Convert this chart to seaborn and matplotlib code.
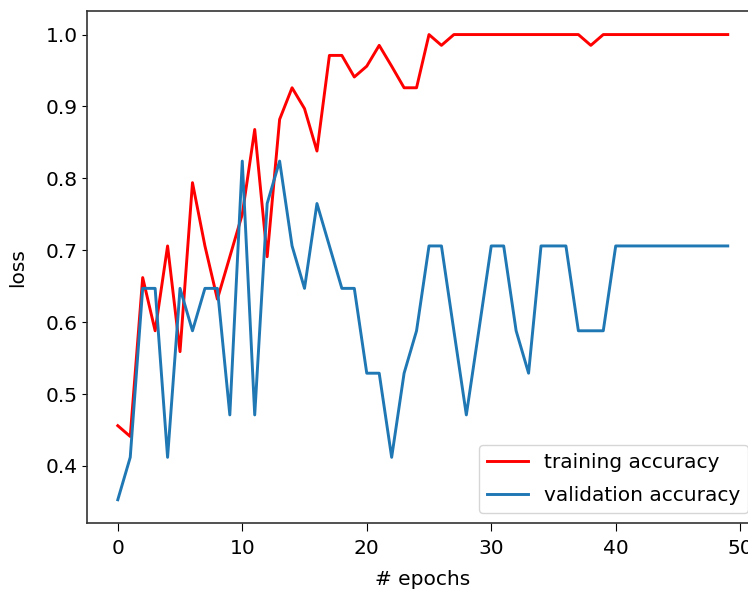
import numpy as np
import pandas as pd
import matplotlib
matplotlib.use("Agg")
import matplotlib.pyplot as plt
import seaborn as sns

## accuracy per epoch
epochs = list(range(50))
train_acc = [0.456, 0.441, 0.662, 0.588, 0.706, 0.559, 0.794, 0.706, 0.632, 0.691,
             0.750, 0.868, 0.691, 0.882, 0.926, 0.897, 0.838, 0.971, 0.971, 0.941,
             0.956, 0.985, 0.956, 0.926, 0.926, 1.0, 0.985, 1.0, 1.0, 1.0,
             1.0, 1.0, 1.0, 1.0, 1.0, 1.0, 1.0, 1.0, 0.985, 1.0,
             1.0, 1.0, 1.0, 1.0, 1.0, 1.0, 1.0, 1.0, 1.0, 1.0]
val_acc = [0.353, 0.412, 0.647, 0.647, 0.412, 0.647, 0.588, 0.647, 0.647, 0.471,
           0.824, 0.471, 0.765, 0.824, 0.706, 0.647, 0.765, 0.706, 0.647, 0.647,
           0.529, 0.529, 0.412, 0.529, 0.588, 0.706, 0.706, 0.588, 0.471, 0.588,
           0.706, 0.706, 0.588, 0.529, 0.706, 0.706, 0.706, 0.588, 0.588, 0.588,
           0.706, 0.706, 0.706, 0.706, 0.706, 0.706, 0.706, 0.706, 0.706, 0.706]

plt.rcParams['font.family'] = ['DejaVu Sans']
plt.rcParams['font.size'] = 14

fig = plt.figure(figsize=(7.48, 5.95), dpi=100)
ax = fig.add_axes([0.1167, 0.121, 0.897, 0.86])

# draw both curves
sns.lineplot(x=epochs, y=train_acc, color='red', linewidth=2.1,
             label='training accuracy', ax=ax)
sns.lineplot(x=epochs, y=val_acc, color='#1f77b4', linewidth=2.1,
             label='validation accuracy', ax=ax)

ax.set_xlabel('# epochs', fontsize=14.5, labelpad=9)
ax.set_ylabel('loss', fontsize=14.5, labelpad=13)
ax.set_xticks([0, 10, 20, 30, 40, 50])
ax.tick_params(labelsize=14.5)
ax.tick_params(axis='x', length=5.5, pad=6)
for s in ax.spines.values():
    s.set_linewidth(1.2)
    s.set_color('#333333')
ax.legend(loc='lower right', fontsize=14.5, labelspacing=0.7)

fig.savefig('out.png', dpi=100)
